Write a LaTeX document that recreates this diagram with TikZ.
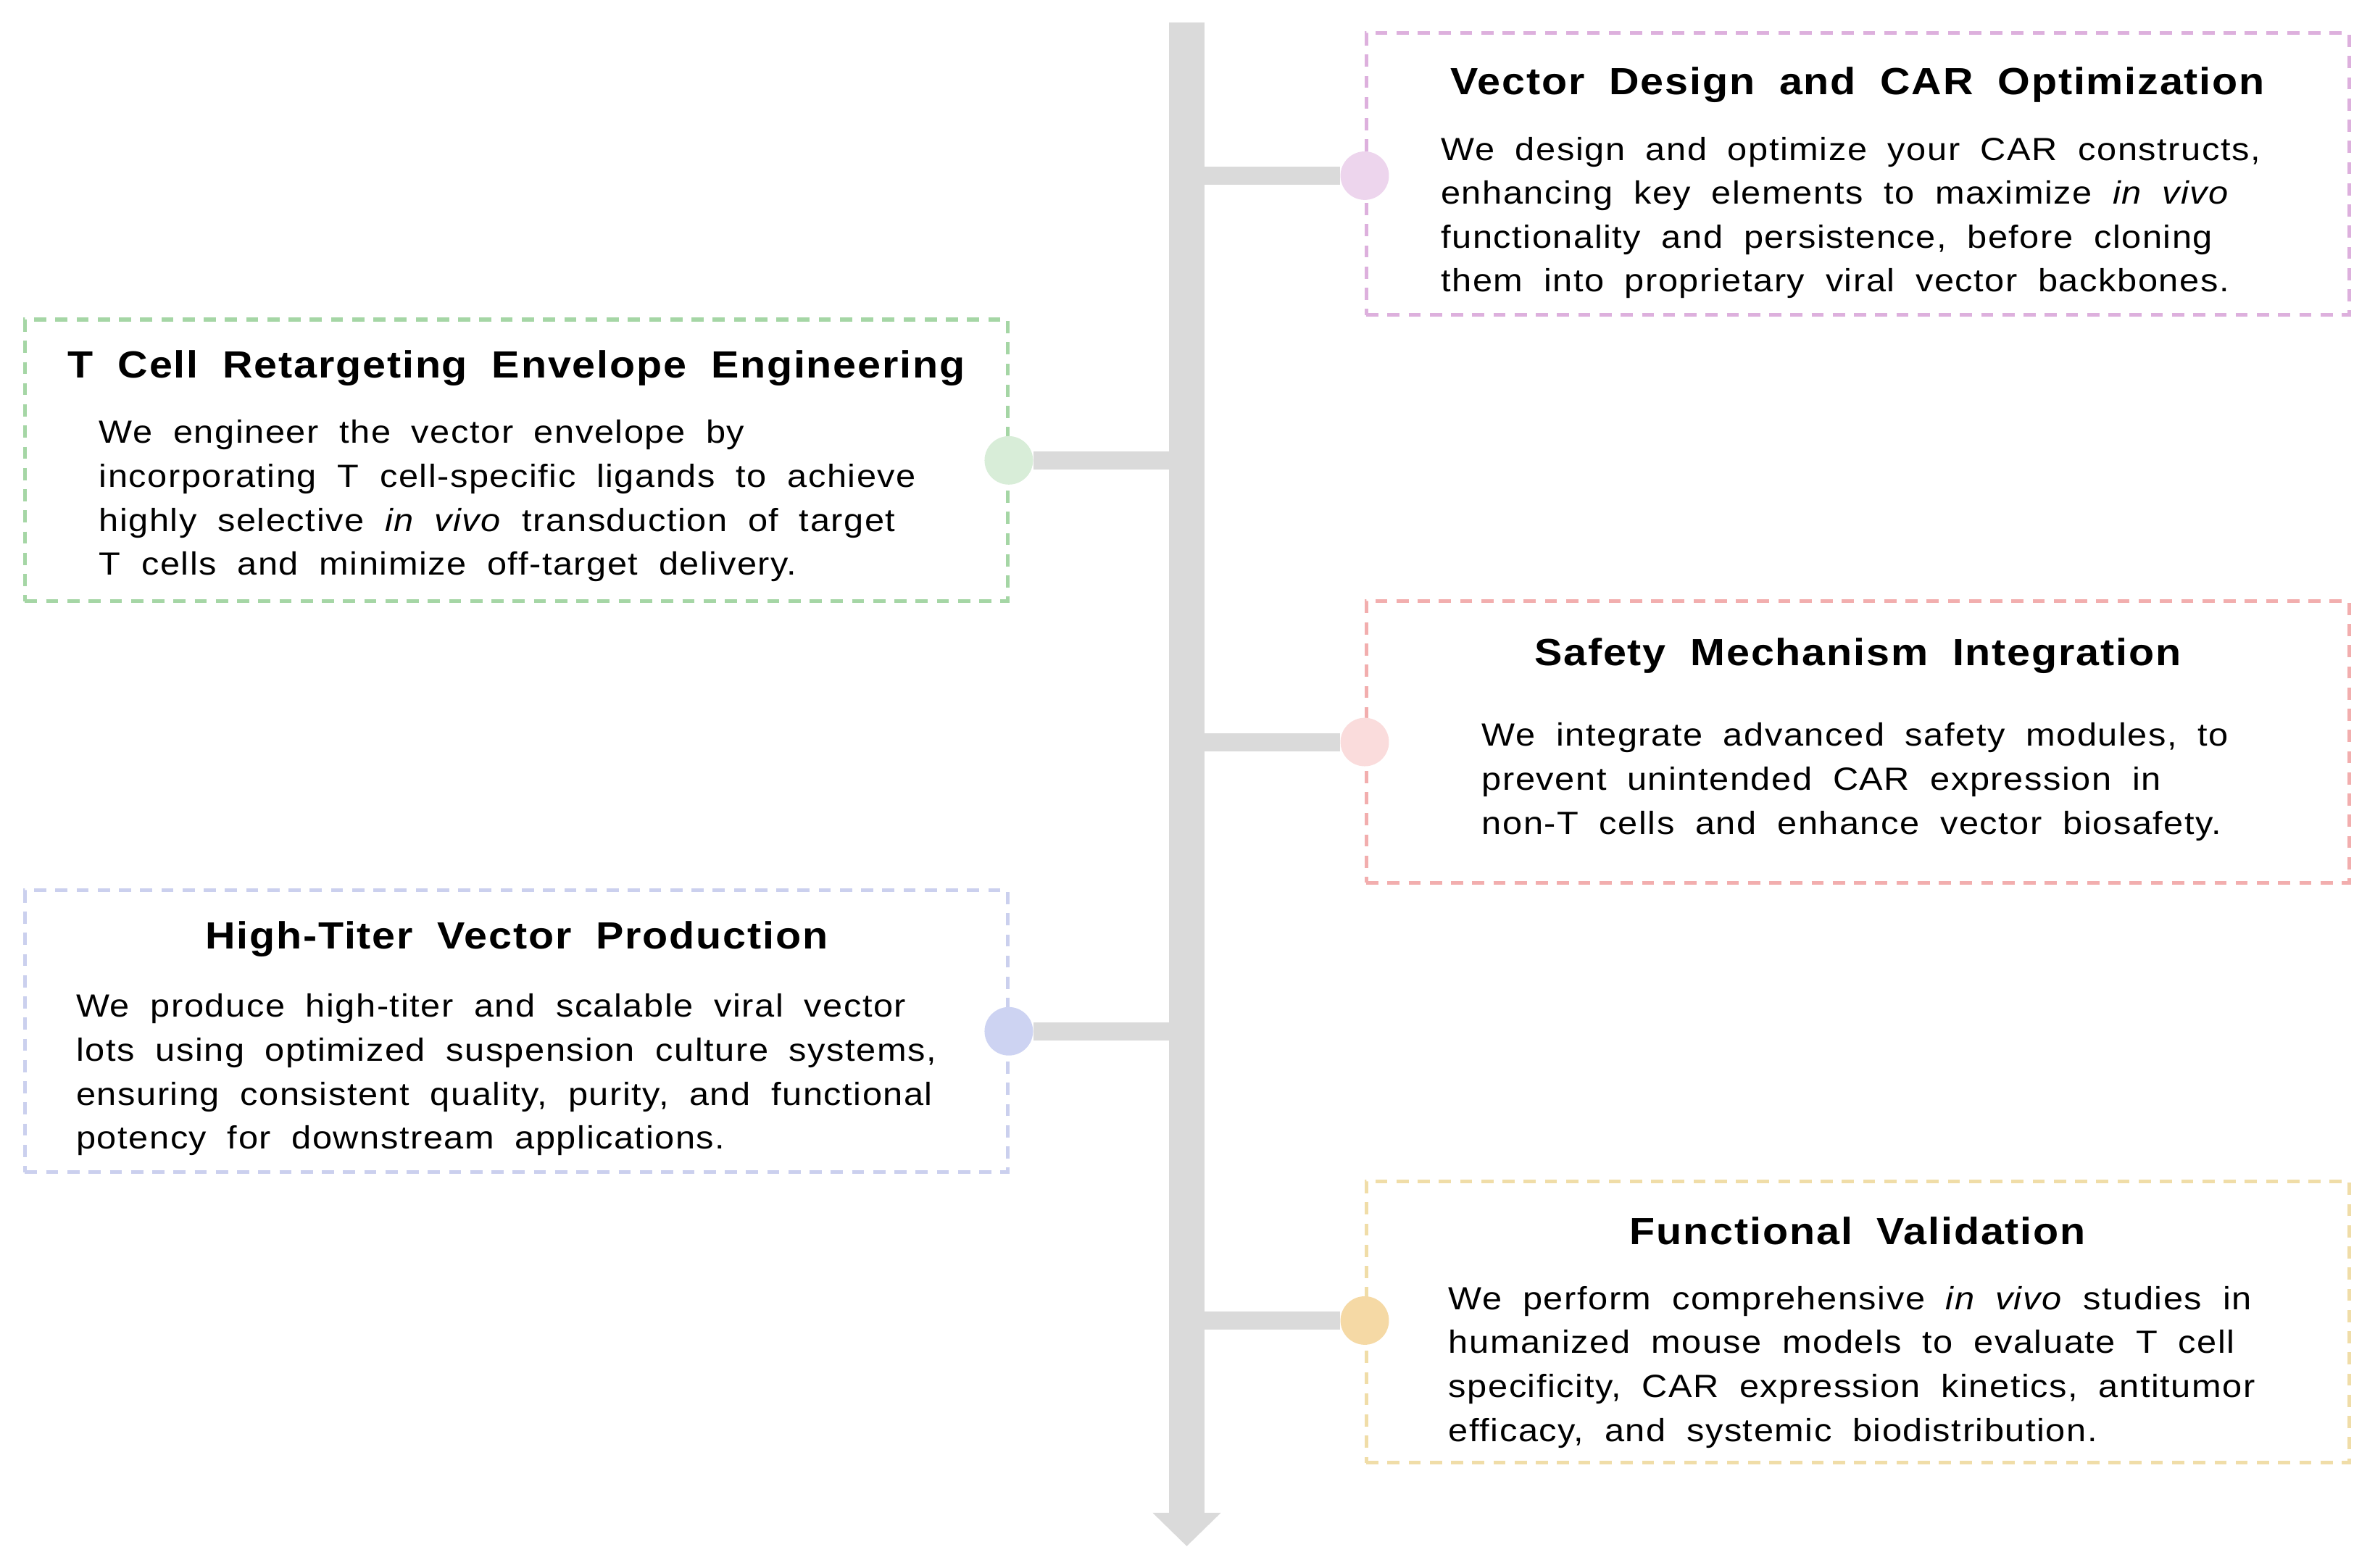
\documentclass[tikz,border=0pt]{standalone}
\usepackage{fontspec}
\setmainfont{Liberation Sans}[WordSpace=1.9,FakeStretch=1.1,LetterSpace=3.5]
\begin{document}
\begin{tikzpicture}[x=0.5pt,y=-0.5pt,
 box/.style={draw=#1,line width=1.2pt,dash pattern=on 4pt off 3pt,minimum width=324.5pt,minimum height=93pt,inner sep=0pt},
 dot/.style={circle,fill=#1,minimum size=16pt,inner sep=0pt},
 ttl/.style={font=\fontsize{12.5}{15}\selectfont\bfseries,anchor=center},
 body/.style={font=\fontsize{10.6}{14.5}\selectfont,align=left,anchor=north west,inner sep=0pt},
 conn/.style={draw=trunk,line width=6pt}]
\definecolor{trunk}{HTML}{DADADA}
\definecolor{c1b}{HTML}{DDB0DD}\definecolor{c1f}{HTML}{EDD5ED}
\definecolor{c2b}{HTML}{A5D6A5}\definecolor{c2f}{HTML}{D8EDD8}
\definecolor{c3b}{HTML}{F2AEAE}\definecolor{c3f}{HTML}{FADCDC}
\definecolor{c4b}{HTML}{CBD0EE}\definecolor{c4f}{HTML}{CDD3F2}
\definecolor{c5b}{HTML}{F0DDA8}\definecolor{c5f}{HTML}{F5D9A5}
\useasboundingbox (0,0) rectangle (1568,1035);
\fill[trunk] (772,15) rectangle (795,1000);
\fill[trunk] (761,999) -- (806,999) -- (783.5,1021) -- cycle;
\coordinate (t1) at (783,116); \coordinate (t2) at (783,304); \coordinate (t3) at (783,490);
\coordinate (t4) at (783,681); \coordinate (t5) at (783,872);
% boxes
\node[box=c1b] (b1) at (1226.5,115) {};
\node[box=c2b] (b2) at (341,304) {};
\node[box=c3b] (b3) at (1226.5,490) {};
\node[box=c4b] (b4) at (341,681) {};
\node[box=c5b] (b5) at (1226.5,873) {};
% connectors and dots
\node[dot=c1f] (d1) at (901,116) {};
\node[dot=c2f] (d2) at (666,304) {};
\node[dot=c3f] (d3) at (901,490) {};
\node[dot=c4f] (d4) at (666,681) {};
\node[dot=c5f] (d5) at (901,872) {};
\draw[conn] (t1) -- (d1); \draw[conn] (t2) -- (d2); \draw[conn] (t3) -- (d3);
\draw[conn] (t4) -- (d4); \draw[conn] (t5) -- (d5);
% titles
\node[ttl] (h1) at (1226.5,56) {Vector Design and CAR Optimization};
\node[ttl] (h2) at (341,243) {T Cell Retargeting Envelope Engineering};
\node[ttl] (h3) at (1226.5,433) {Safety Mechanism Integration};
\node[ttl] (h4) at (341,620) {High-Titer Vector Production};
\node[ttl] (h5) at (1226.5,813) {Functional Validation};
% bodies
\node[body] (p1) at (951,90) {We design and optimize your CAR constructs,\\enhancing key elements to maximize \textit{in vivo}\\functionality and persistence, before cloning\\them into proprietary viral vector backbones.};
\node[body] (p2) at (65,277) {We engineer the vector envelope by\\incorporating T cell-specific ligands to achieve\\highly selective \textit{in vivo} transduction of target\\T cells and minimize off-target delivery.};
\node[body] (p3) at (978,477) {We integrate advanced safety modules, to\\prevent unintended CAR expression in\\non-T cells and enhance vector biosafety.};
\node[body] (p4) at (50,656) {We produce high-titer and scalable viral vector\\lots using optimized suspension culture systems,\\ensuring consistent quality, purity, and functional\\potency for downstream applications.};
\node[body] (p5) at (956,849) {We perform comprehensive \textit{in vivo} studies in\\humanized mouse models to evaluate T cell\\specificity, CAR expression kinetics, antitumor\\efficacy, and systemic biodistribution.};
\end{tikzpicture}
\end{document}
